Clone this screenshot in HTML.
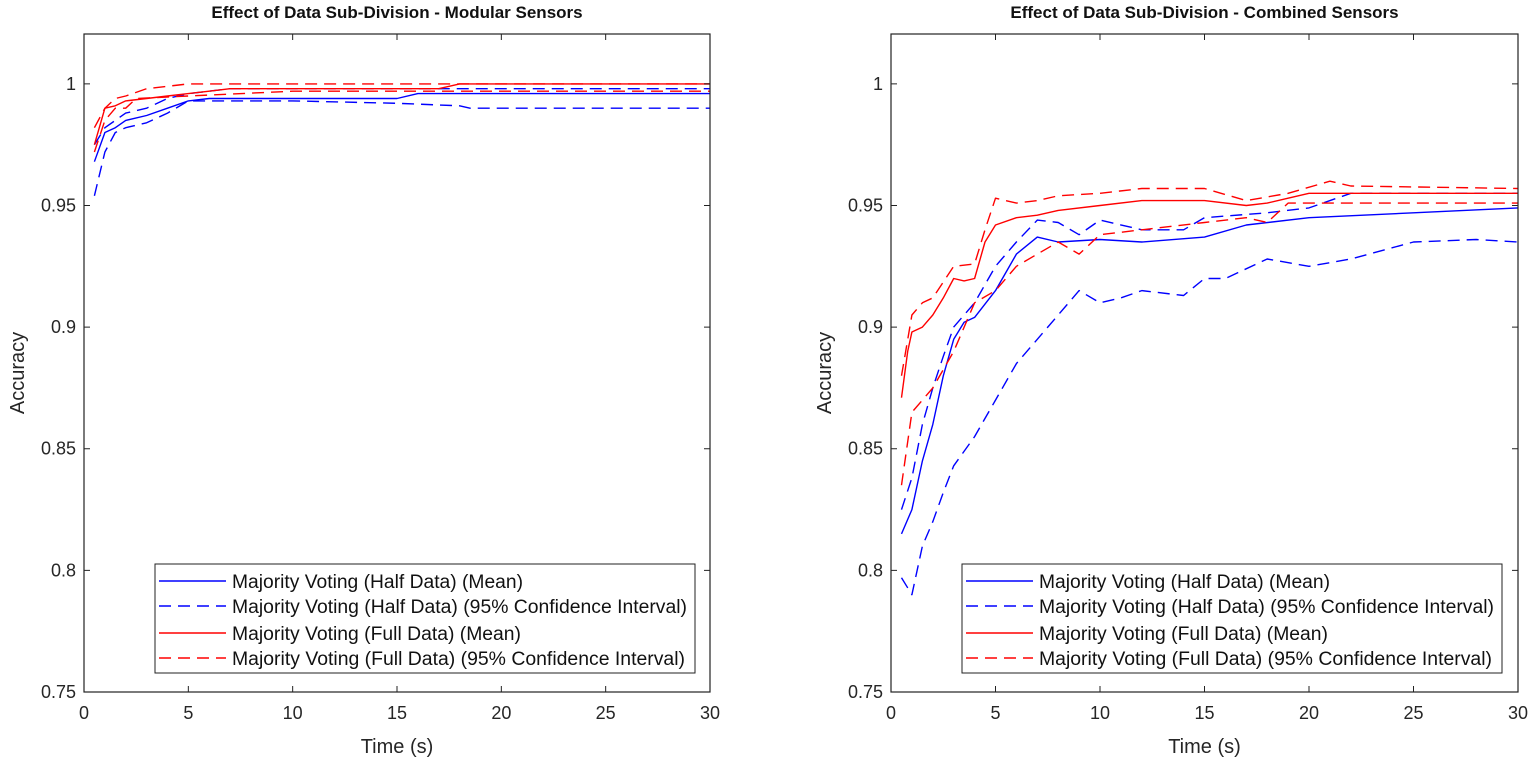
<!DOCTYPE html>
<html><head><meta charset="utf-8"><style>
html,body{margin:0;padding:0;background:#fff;}
svg{display:block;font-family:"Liberation Sans",Arial,sans-serif;}
</style></head><body>
<svg id="chart" width="1535" height="766" viewBox="0 0 1535 766"></svg>
<script>
const xTicks=[0,5,10,15,20,25,30];
const yTicks=[0.75,0.8,0.85,0.9,0.95,1];
const yTickLabels=["0.75","0.8","0.85","0.9","0.95","1"];
const seriesNames=["Majority Voting (Half Data) (Mean)","Majority Voting (Half Data) (95% Confidence Interval)","Majority Voting (Full Data) (Mean)","Majority Voting (Full Data) (95% Confidence Interval)"];
const legendTextWidths=[291,455,289,453];
// Modular sensors [t, acc] pairs
const modHalfMean=[[0.5,0.968],[1,0.98],[1.5,0.982],[2,0.985],[3,0.987],[4,0.99],[5,0.993],[6,0.994],[10,0.994],[15,0.994],[16,0.996],[30,0.996]];
const modHalfUpper=[[0.5,0.975],[1,0.982],[1.5,0.985],[2,0.988],[3,0.99],[4,0.994],[5,0.996],[7,0.998],[15,0.998],[30,0.998]];
const modHalfLower=[[0.5,0.954],[1,0.972],[1.5,0.98],[2,0.982],[3,0.984],[4,0.988],[5,0.993],[10,0.993],[15,0.992],[18,0.991],[18.5,0.99],[30,0.99]];
const modFullMean=[[0.5,0.975],[1,0.99],[1.5,0.991],[2,0.993],[3,0.994],[4,0.995],[5,0.996],[6,0.997],[7,0.998],[17,0.998],[18,1.0],[30,1.0]];
const modFullUpper=[[0.5,0.982],[1,0.99],[1.5,0.994],[2,0.995],[3,0.998],[4,0.999],[5,1.0],[30,1.0]];
const modFullLower=[[0.5,0.972],[1,0.985],[1.5,0.99],[2,0.99],[2.5,0.994],[5,0.995],[10,0.997],[30,0.997]];
// Combined sensors
const comHalfMean=[[0.5,0.815],[1,0.825],[1.5,0.845],[2,0.86],[2.5,0.88],[3,0.895],[3.5,0.902],[4,0.904],[5,0.915],[6,0.93],[7,0.937],[8,0.935],[10,0.936],[12,0.935],[15,0.937],[17,0.942],[20,0.945],[25,0.947],[30,0.949]];
const comHalfUpper=[[0.5,0.825],[1,0.838],[1.5,0.86],[2,0.875],[2.5,0.888],[3,0.9],[3.5,0.905],[4,0.91],[5,0.925],[6,0.935],[7,0.944],[8,0.943],[9,0.938],[10,0.944],[12,0.94],[14,0.94],[15,0.945],[18,0.947],[20,0.949],[22,0.955],[30,0.955]];
const comHalfLower=[[0.5,0.797],[1,0.79],[1.5,0.81],[2,0.82],[2.5,0.832],[3,0.843],[4,0.855],[5,0.87],[6,0.885],[7,0.895],[8,0.905],[9,0.915],[10,0.91],[11,0.912],[12,0.915],[14,0.913],[15,0.92],[16,0.92],[18,0.928],[20,0.925],[22,0.928],[25,0.935],[28,0.936],[30,0.935]];
const comFullMean=[[0.5,0.871],[0.8,0.89],[1,0.898],[1.5,0.9],[2,0.905],[2.5,0.912],[3,0.92],[3.5,0.919],[4,0.92],[4.5,0.935],[5,0.942],[6,0.945],[7,0.946],[8,0.948],[10,0.95],[12,0.952],[15,0.952],[17,0.95],[18,0.951],[19,0.953],[20,0.955],[30,0.955]];
const comFullUpper=[[0.5,0.88],[1,0.905],[1.5,0.91],[2,0.912],[3,0.925],[4,0.926],[4.5,0.94],[5,0.953],[6,0.951],[7,0.952],[8,0.954],[10,0.955],[12,0.957],[15,0.957],[17,0.952],[19,0.955],[21,0.96],[22,0.958],[30,0.957]];
const comFullLower=[[0.5,0.835],[1,0.865],[1.5,0.87],[2,0.875],[3,0.89],[4,0.91],[5,0.915],[6,0.925],[7,0.93],[8,0.935],[9,0.93],[10,0.938],[12,0.94],[15,0.943],[17,0.945],[18,0.943],[19,0.951],[30,0.951]];

const NS="http://www.w3.org/2000/svg";
const svg=document.getElementById('chart');
function mk(tag,attrs,parent){const e=document.createElementNS(NS,tag);for(const k in attrs)e.setAttribute(k,attrs[k]);(parent||svg).appendChild(e);return e;}
const Y0=0.75,Y1=1.0205,TOP=34,BOT=692;
function drawPanel(id,left,right,title,data){
  const g=mk('g',{});
  
  
  const xs=v=>left+(v/30)*(right-left);
  const ys=v=>BOT-(v-Y0)/(Y1-Y0)*(BOT-TOP);
  const t=mk('text',{x:(left+right)/2,y:18,'text-anchor':'middle','font-size':'17','font-weight':'bold',fill:'#111'},g);
  t.textContent=title;
  
  
  const colors={half:'#0000ff',full:'#ff0000'};
  data.forEach(s=>{
    const p=mk('polyline',{points:s.pts.map(d=>xs(d[0]).toFixed(1)+','+ys(d[1]).toFixed(1)).join(' '),fill:'none',stroke:colors[s.c],'stroke-width':'1.4','stroke-dasharray':s.dash?'12,7':'none','stroke-linejoin':'round'},g);
    
    
  });
  const ax=mk('rect',{x:left,y:TOP,width:right-left,height:BOT-TOP,fill:'none',stroke:'#222','stroke-width':'1.2'},g);
  
  
  xTicks.forEach(v=>{
    const x=xs(v);
    mk('line',{x1:x,x2:x,y1:BOT,y2:BOT-6,stroke:'#222'},g);
    mk('line',{x1:x,x2:x,y1:TOP,y2:TOP+6,stroke:'#222'},g);
    const l=mk('text',{x:x,y:BOT+27,'text-anchor':'middle','font-size':'18',fill:'#262626'},g);
    l.textContent=v;
    
    
  });
  yTicks.forEach((v,i)=>{
    const y=ys(v);
    mk('line',{x1:left,x2:left+6,y1:y,y2:y,stroke:'#222'},g);
    mk('line',{x1:right,x2:right-6,y1:y,y2:y,stroke:'#222'},g);
    const l=mk('text',{x:left-8,y:y+6,'text-anchor':'end','font-size':'18',fill:'#262626'},g);
    l.textContent=yTickLabels[i];
    
    
  });
  const xl=mk('text',{x:(left+right)/2,y:753,'text-anchor':'middle','font-size':'20',fill:'#262626'},g);
  xl.textContent='Time (s)';
  
  
  const yl=mk('text',{x:0,y:0,'text-anchor':'middle','font-size':'20',fill:'#262626',transform:`translate(${left-60},${(TOP+BOT)/2+10}) rotate(-90)`},g);
  yl.textContent='Accuracy';
  
  
  const lx=left+71,ly=564,lw=540,lh=109;
  const lg=mk('g',{},g);
  
  
  mk('rect',{x:lx,y:ly,width:lw,height:lh,fill:'#fff',stroke:'#222','stroke-width':'1'},lg);
  const lc=['half','half','full','full'],ld=[false,true,false,true];
  const rows=[581,606,633,658];
  seriesNames.forEach((n,i)=>{
    const e=mk('g',{},lg);
    
    
    mk('line',{x1:lx+4,x2:lx+71,y1:rows[i],y2:rows[i],stroke:colors[lc[i]],'stroke-width':'1.4','stroke-dasharray':ld[i]?'12,7':'none'},e);
    const tx=mk('text',{x:lx+77,y:rows[i]+7,'font-size':'19',fill:'#111',textLength:legendTextWidths[i],lengthAdjust:'spacingAndGlyphs'},e);
    tx.textContent=n;
  });
}
drawPanel('modular',84,710,'Effect of Data Sub-Division - Modular Sensors',[
  {n:'half-upper',c:'half',dash:true,pts:modHalfUpper},{n:'half-lower',c:'half',dash:true,pts:modHalfLower},{n:'half-mean',c:'half',dash:false,pts:modHalfMean},
  {n:'full-upper',c:'full',dash:true,pts:modFullUpper},{n:'full-lower',c:'full',dash:true,pts:modFullLower},{n:'full-mean',c:'full',dash:false,pts:modFullMean}]);
drawPanel('combined',891,1518,'Effect of Data Sub-Division - Combined Sensors',[
  {n:'half-upper',c:'half',dash:true,pts:comHalfUpper},{n:'half-lower',c:'half',dash:true,pts:comHalfLower},{n:'half-mean',c:'half',dash:false,pts:comHalfMean},
  {n:'full-upper',c:'full',dash:true,pts:comFullUpper},{n:'full-lower',c:'full',dash:true,pts:comFullLower},{n:'full-mean',c:'full',dash:false,pts:comFullMean}]);
</script>
</body></html>
